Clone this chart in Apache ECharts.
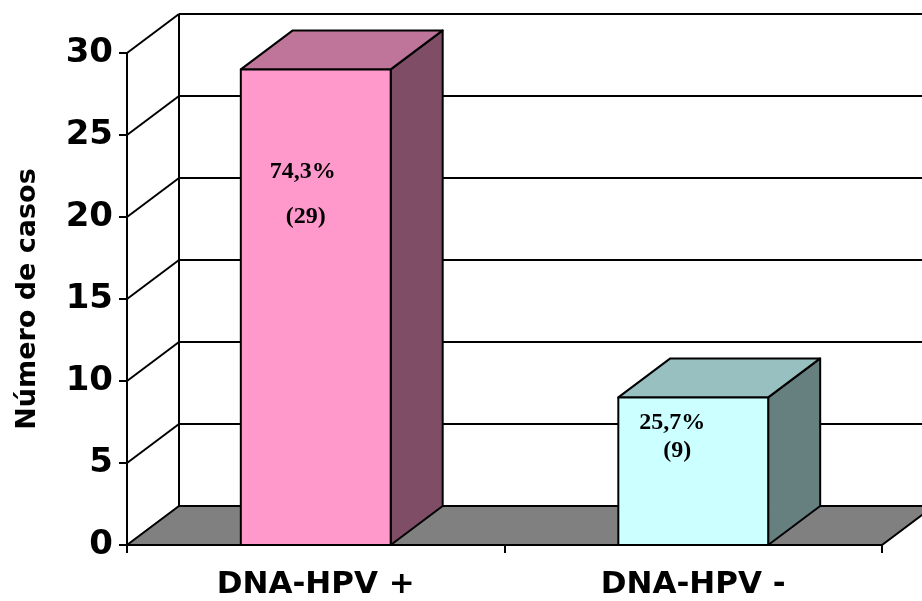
<!DOCTYPE html>
<html>
<head>
<meta charset="utf-8">
<style>
  html, body { margin: 0; padding: 0; background: #ffffff; }
  #chart { width: 922px; height: 601px; }
</style>
<script src="https://cdn.jsdelivr.net/npm/echarts@6/dist/echarts.min.js"></script>
</head>
<body>
<div id="chart"></div>
<script>
// Case counts by HPV DNA result
const categories = ['DNA-HPV +', 'DNA-HPV -'];
const cases = [29, 9];
const percentLabels = ['74,3%', '25,7%'];
const yTicks = [0, 5, 10, 15, 20, 25, 30];

// 3D look: depth offset of the back plane, in pixels
const DX = 52;
const DY = -39;
const BAR_RATIO = 0.397;
const faceColors = [
  { front: '#FF99CC', top: '#BF7599', side: '#804D66' },
  { front: '#CCFFFF', top: '#99C0C0', side: '#668080' }
];
// label anchor offsets relative to (bar centre, bar top)
const labelOffsets = [
  { pct: [-13, 102], count: [-10, 147] },
  { pct: [-21, 25], count: [-16, 53] }
];
const SANS = '"DejaVu Sans", "Liberation Sans", Arial, sans-serif';
const SERIF = '"Liberation Serif", "Times New Roman", serif';

const chart = echarts.init(document.getElementById('chart'), null, { renderer: 'canvas' });

const LINE = { stroke: '#000', lineWidth: 2 };

function frameItem(params, api) {
  const bw = api.size([1, 0])[0];
  const x0 = api.coord([0, 0])[0] - bw / 2;
  const x1 = api.coord([categories.length - 1, 0])[0] + bw / 2;
  const y0 = api.coord([0, yTicks[0]])[1];
  const yMax = api.coord([0, yTicks[yTicks.length - 1]])[1];
  const children = [];
  // floor
  children.push({
    type: 'polygon',
    shape: { points: [[x0, y0], [x1, y0], [x1 + DX, y0 + DY], [x0 + DX, y0 + DY]] },
    style: { fill: '#808080', stroke: '#000', lineWidth: 2 }
  });
  // back wall and side wall grid lines
  yTicks.forEach(function (t) {
    const y = api.coord([0, t])[1];
    if (t > yTicks[0]) {
      children.push({
        type: 'line',
        shape: { x1: x0 + DX, y1: y + DY, x2: x1 + DX, y2: y + DY },
        style: LINE
      });
      children.push({
        type: 'line',
        shape: { x1: x0, y1: y, x2: x0 + DX, y2: y + DY },
        style: LINE
      });
    }
  });
  // back-left edge of the walls
  children.push({
    type: 'line',
    shape: { x1: x0 + DX, y1: y0 + DY, x2: x0 + DX, y2: yMax + DY },
    style: LINE
  });
  return { type: 'group', children: children };
}

function barItem(params, api) {
  const i = params.dataIndex;
  const c = api.coord([api.value(0), api.value(1)]);
  const base = api.coord([api.value(0), 0]);
  const w = api.size([1, 0])[0] * BAR_RATIO;
  const xl = c[0] - w / 2, xr = c[0] + w / 2;
  const yt = c[1], yb = base[1];
  const col = faceColors[i];
  const off = labelOffsets[i];
  const border = { stroke: '#000', lineWidth: 2, lineJoin: 'round' };
  return {
    type: 'group',
    children: [
      {
        type: 'polygon',
        shape: { points: [[xr, yt], [xr, yb], [xr + DX, yb + DY], [xr + DX, yt + DY]] },
        style: Object.assign({ fill: col.side }, border)
      },
      {
        type: 'polygon',
        shape: { points: [[xl, yt], [xr, yt], [xr + DX, yt + DY], [xl + DX, yt + DY]] },
        style: Object.assign({ fill: col.top }, border)
      },
      {
        type: 'rect',
        shape: { x: xl, y: yt, width: w, height: yb - yt },
        style: Object.assign({ fill: col.front }, border)
      },
      {
        type: 'text',
        x: c[0] + off.pct[0], y: yt + off.pct[1],
        style: {
          text: percentLabels[i], fill: '#000',
          font: 'bold 24px ' + SERIF, align: 'center', verticalAlign: 'middle'
        }
      },
      {
        type: 'text',
        x: c[0] + off.count[0], y: yt + off.count[1],
        style: {
          text: '(' + cases[i] + ')', fill: '#000',
          font: 'bold 24px ' + SERIF, align: 'center', verticalAlign: 'middle'
        }
      }
    ]
  };
}

chart.setOption({
  animation: false,
  backgroundColor: '#ffffff',
  grid: { left: 127, right: 40, top: 53, bottom: 56, containLabel: false },
  xAxis: {
    type: 'category',
    data: categories,
    boundaryGap: true,
    axisLine: { show: true, lineStyle: { color: '#000', width: 2 } },
    axisTick: { show: true, length: 8, inside: false, alignWithLabel: false, lineStyle: { color: '#000', width: 2 } },
    axisLabel: {
      margin: 24, color: '#000', fontFamily: SANS, fontWeight: 'bold', fontSize: 31
    },
    splitLine: { show: false }
  },
  yAxis: {
    type: 'value',
    min: 0, max: 30, interval: 5,
    name: 'Número de casos',
    nameLocation: 'middle',
    nameGap: 86,
    nameRotate: 90,
    nameTextStyle: { color: '#000', fontFamily: SANS, fontWeight: 'bold', fontSize: 27 },
    axisLine: { show: true, lineStyle: { color: '#000', width: 2 } },
    axisTick: { show: true, length: 8, lineStyle: { color: '#000', width: 2 } },
    axisLabel: {
      margin: 14, padding: [6, 0, 0, 0], color: '#000', fontFamily: SANS, fontWeight: 'bold', fontSize: 34
    },
    splitLine: { show: false }
  },
  series: [
    {
      type: 'custom',
      name: 'frame',
      coordinateSystem: 'cartesian2d',
      clip: false,
      silent: true,
      z: 1,
      data: [[0, 0]],
      renderItem: frameItem
    },
    {
      type: 'custom',
      name: 'Número de casos',
      coordinateSystem: 'cartesian2d',
      clip: false,
      z: 3,
      data: cases.map(function (v, i) { return [i, v]; }),
      renderItem: barItem
    }
  ]
});
</script>
</body>
</html>
